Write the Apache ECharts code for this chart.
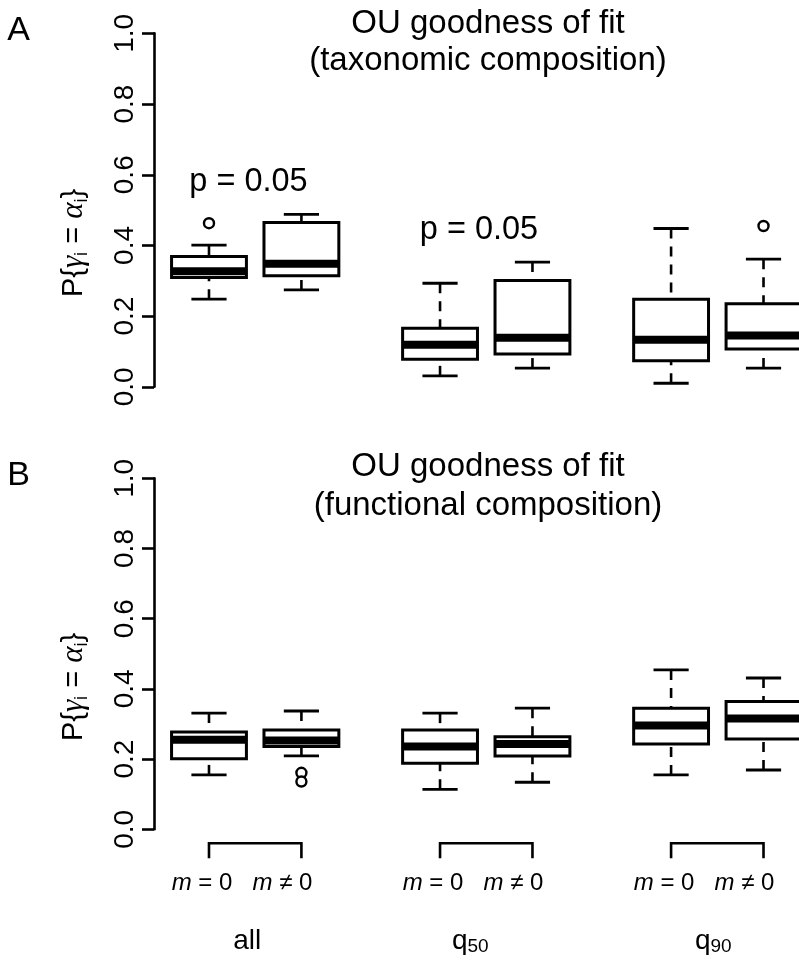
<!DOCTYPE html>
<html><head><meta charset="utf-8">
<script src="https://cdn.jsdelivr.net/npm/echarts@6/dist/echarts.min.js"></script>
<style>html,body{margin:0;padding:0;background:#fff}#c{width:799px;height:964px}</style>
</head><body><div id="c"></div>
<script>
// ---- data ----
const positions = [1, 2, 3.5, 4.5, 6, 7];
// taxonomic composition (panel A)
const taxLow  = [0.248, 0.274, 0.031, 0.053, 0.010, 0.053];
const taxQ1   = [0.309, 0.314, 0.078, 0.093, 0.074, 0.107];
const taxMed  = [0.327, 0.348, 0.119, 0.139, 0.133, 0.145];
const taxQ3   = [0.369, 0.465, 0.166, 0.301, 0.248, 0.235];
const taxHigh = [0.401, 0.488, 0.293, 0.353, 0.448, 0.361];
const taxOutX = [1, 7];
const taxOutY = [0.463, 0.455];
// functional composition (panel B)
const funLow  = [0.155, 0.209, 0.114, 0.134, 0.155, 0.169];
const funQ1   = [0.201, 0.236, 0.188, 0.209, 0.243, 0.257];
const funMed  = [0.255, 0.253, 0.236, 0.243, 0.296, 0.316];
const funQ3   = [0.277, 0.283, 0.283, 0.264, 0.345, 0.364];
const funHigh = [0.331, 0.337, 0.331, 0.345, 0.454, 0.431];
const funOutX = [2, 2];
const funOutY = [0.161, 0.136];
// labels
const groupLabels = ['all', 'q50', 'q90'];
const mLabels = ['m = 0', 'm \u2260 0'];
const yTicks = [0, 0.2, 0.4, 0.6, 0.8, 1.0];
const pLabel = 'p = 0.05';

// ---- build ----
const FONT = 'Liberation Sans, Arial, sans-serif';
function boxRows(lo, q1, md, q3, hi) {
  return positions.map((p, i) => [p, lo[i], q1[i], md[i], q3[i], hi[i]]);
}
function boxItem(params, api) {
  const x = api.value(0);
  const lo = api.coord([x, api.value(1)]);
  const q1 = api.coord([x, api.value(2)]);
  const md = api.coord([x, api.value(3)]);
  const q3 = api.coord([x, api.value(4)]);
  const hi = api.coord([x, api.value(5)]);
  const bw = api.size([0.81, 0])[0];
  const cw = bw * 0.47;
  const cx = lo[0];
  const k = '#000';
  return { type: 'group', children: [
    { type: 'line', shape: { x1: cx, y1: hi[1], x2: cx, y2: q3[1] }, style: { stroke: k, lineWidth: 2.6, lineDash: [10, 8] } },
    { type: 'line', shape: { x1: cx, y1: lo[1], x2: cx, y2: q1[1] }, style: { stroke: k, lineWidth: 2.6, lineDash: [10, 8] } },
    { type: 'line', shape: { x1: cx - cw / 2, y1: hi[1], x2: cx + cw / 2, y2: hi[1] }, style: { stroke: k, lineWidth: 2.8 } },
    { type: 'line', shape: { x1: cx - cw / 2, y1: lo[1], x2: cx + cw / 2, y2: lo[1] }, style: { stroke: k, lineWidth: 2.8 } },
    { type: 'rect', shape: { x: cx - bw / 2, y: q3[1], width: bw, height: q1[1] - q3[1] }, style: { fill: '#fff', stroke: k, lineWidth: 3 } },
    { type: 'line', shape: { x1: cx - bw / 2, y1: md[1], x2: cx + bw / 2, y2: md[1] }, style: { stroke: k, lineWidth: 8, lineCap: 'butt' } }
  ]};
}
const mLabelOff = [-7, -19];
const groupLabelOff = [-8, -16, -4];
function richLabel(s) {
  if (s.startsWith('m')) return '{i|m}{n|' + s.slice(1) + '}';
  if (s.startsWith('q')) return '{g|q}{s|' + s.slice(1) + '}';
  return '{g|' + s + '}';
}
function bracketItem(params, api) {
  const i = params.dataIndex;
  const a = api.coord([api.value(0), 0]);
  const b = api.coord([api.value(1), 0]);
  const y0 = a[1] + 14;
  const rich = {
    i: { fontFamily: FONT, fontSize: 24, fontStyle: 'italic', fill: '#000' },
    n: { fontFamily: FONT, fontSize: 24, fill: '#000' },
    g: { fontFamily: FONT, fontSize: 28, fill: '#000', lineHeight: 30 },
    s: { fontFamily: FONT, fontSize: 19, fill: '#000', lineHeight: 16, verticalAlign: 'bottom' }
  };
  return { type: 'group', children: [
    { type: 'polyline', shape: { points: [[a[0], y0 + 15], [a[0], y0], [b[0], y0], [b[0], y0 + 15]] }, style: { stroke: '#000', lineWidth: 2.6, fill: null } },
    { type: 'text', x: a[0] + mLabelOff[0], y: y0 + 40.5, style: { text: richLabel(mLabels[0]), rich: rich, align: 'center', verticalAlign: 'middle' } },
    { type: 'text', x: b[0] + mLabelOff[1], y: y0 + 40.5, style: { text: richLabel(mLabels[1]), rich: rich, align: 'center', verticalAlign: 'middle' } },
    { type: 'text', x: (a[0] + b[0]) / 2 + groupLabelOff[i], y: y0 + 98, style: { text: richLabel(groupLabels[i]), rich: rich, align: 'center', verticalAlign: 'middle' } }
  ]};
}
function yAxisCfg(gi) {
  return {
    type: 'value', gridIndex: gi, min: yTicks[0], max: yTicks[yTicks.length - 1], interval: 0.2,
    splitLine: { show: false },
    axisLine: { show: true, onZero: false, lineStyle: { color: '#000', width: 2.6 } },
    axisTick: { show: true, length: 12, lineStyle: { color: '#000', width: 2.6 } },
    axisLabel: { rotate: 90, fontSize: 28, color: '#000', fontFamily: FONT, margin: 15, formatter: v => v.toFixed(1) }
  };
}
function xAxisCfg(gi) {
  return { type: 'value', gridIndex: gi, min: 0.405, max: 7.384, show: false };
}
const outStyle = { color: '#fff', borderColor: '#000', borderWidth: 2.4, opacity: 1 };
const yRich = {
  n: { fontFamily: FONT, fontSize: 29, fill: '#000', lineHeight: 34 },
  g: { fontFamily: 'Liberation Serif, serif', fontSize: 31, fontStyle: 'italic', fill: '#000', lineHeight: 34 },
  s: { fontFamily: FONT, fontSize: 18, fill: '#000', lineHeight: 18, verticalAlign: 'bottom' }
};
const yLabelText = '{n|P{}{g|\u03b3}{s|i}{n| = }{g|\u03b1}{s|i}}';

const option = {
  animation: false,
  backgroundColor: '#fff',
  grid: [
    { left: 154, right: 0, top: 33.4, height: 353.4 },
    { left: 154, right: 0, top: 478.3, height: 351 }
  ],
  xAxis: [xAxisCfg(0), xAxisCfg(1)],
  yAxis: [yAxisCfg(0), yAxisCfg(1)],
  series: [
    { type: 'custom', xAxisIndex: 0, yAxisIndex: 0, renderItem: boxItem, data: boxRows(taxLow, taxQ1, taxMed, taxQ3, taxHigh), clip: false, silent: true },
    { type: 'custom', xAxisIndex: 1, yAxisIndex: 1, renderItem: boxItem, data: boxRows(funLow, funQ1, funMed, funQ3, funHigh), clip: false, silent: true },
    { type: 'scatter', xAxisIndex: 0, yAxisIndex: 0, symbol: 'circle', symbolSize: 10, itemStyle: outStyle, z: 5, silent: true, data: taxOutX.map((x, i) => [x, taxOutY[i]]) },
    { type: 'scatter', xAxisIndex: 1, yAxisIndex: 1, symbol: 'circle', symbolSize: 10, itemStyle: outStyle, z: 5, silent: true, data: funOutX.map((x, i) => [x, funOutY[i]]) },
    { type: 'custom', xAxisIndex: 1, yAxisIndex: 1, renderItem: bracketItem, clip: false, silent: true,
      data: [[positions[0], positions[1]], [positions[2], positions[3]], [positions[4], positions[5]]] }
  ],
  graphic: [
    { type: 'text', x: 18.5, y: 31, style: { text: 'A', fontFamily: FONT, fontSize: 34, fill: '#000', align: 'center', verticalAlign: 'middle' } },
    { type: 'text', x: 18.5, y: 476, style: { text: 'B', fontFamily: FONT, fontSize: 34, fill: '#000', align: 'center', verticalAlign: 'middle' } },
    { type: 'text', x: 488, y: 24, style: { text: 'OU goodness of fit', fontFamily: FONT, fontSize: 33, fill: '#000', align: 'center', verticalAlign: 'middle' } },
    { type: 'text', x: 488, y: 60.5, style: { text: '(taxonomic composition)', fontFamily: FONT, fontSize: 33, fill: '#000', align: 'center', verticalAlign: 'middle' } },
    { type: 'text', x: 488, y: 467, style: { text: 'OU goodness of fit', fontFamily: FONT, fontSize: 33, fill: '#000', align: 'center', verticalAlign: 'middle' } },
    { type: 'text', x: 488, y: 506, style: { text: '(functional composition)', fontFamily: FONT, fontSize: 33, fill: '#000', align: 'center', verticalAlign: 'middle' } },
    { type: 'text', x: 248.5, y: 182, style: { text: pLabel, fontFamily: FONT, fontSize: 32.5, fill: '#000', align: 'center', verticalAlign: 'middle' } },
    { type: 'text', x: 479, y: 230, style: { text: pLabel, fontFamily: FONT, fontSize: 32.5, fill: '#000', align: 'center', verticalAlign: 'middle' } },
    { type: 'text', x: 74, y: 243, rotation: Math.PI / 2, style: { text: yLabelText, rich: yRich, fontFamily: FONT, fontSize: 29, fill: '#000', align: 'center', verticalAlign: 'middle' } },
    { type: 'text', x: 74, y: 687, rotation: Math.PI / 2, style: { text: yLabelText, rich: yRich, fontFamily: FONT, fontSize: 29, fill: '#000', align: 'center', verticalAlign: 'middle' } }
  ]
};
const chart = echarts.init(document.getElementById('c'), null, { renderer: 'canvas' });
chart.setOption(option);
</script>
</body></html>
